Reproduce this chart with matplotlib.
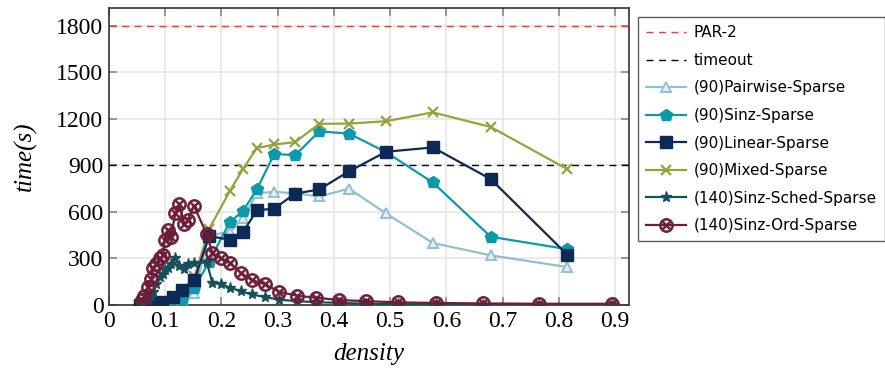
import matplotlib
matplotlib.use("Agg")
import matplotlib.pyplot as plt

# 90-instance series share one density grid
dens90 = [0.055, 0.06, 0.072, 0.084, 0.095, 0.113, 0.13, 0.152, 0.178, 0.215,
          0.238, 0.263, 0.294, 0.331, 0.374, 0.427, 0.493, 0.576, 0.679, 0.815]
pairwise = [1, 2, 3, 5, 8, 15, 30, 80, 450, 470,
            560, 720, 730, 720, 700, 750, 590, 400, 320, 245]
sinz = [1, 2, 3, 5, 8, 15, 32, 110, 280, 535,
        605, 745, 975, 965, 1120, 1105, 985, 790, 440, 360]
linear = [2, 4, 8, 12, 20, 50, 95, 160, 445, 420,
          468, 610, 622, 718, 745, 862, 988, 1016, 812, 325]
mixed = [0, 2, 5, 10, 20, 35, 90, 185, 490, 735,
         875, 1012, 1035, 1050, 1168, 1170, 1185, 1242, 1148, 876]

# 140-instance series
dens140 = [0.058, 0.063, 0.069, 0.075, 0.079, 0.084, 0.091, 0.096, 0.099, 0.105,
           0.11, 0.118, 0.125, 0.134, 0.14, 0.151, 0.174, 0.184, 0.199, 0.216,
           0.235, 0.254, 0.277, 0.303, 0.334, 0.368, 0.41, 0.457, 0.514, 0.582,
           0.665, 0.765, 0.894]
sched = [5, 10, 30, 60, 85, 135, 180, 200, 225, 240,
         262, 305, 250, 230, 262, 270, 275, 140, 135, 110,
         88, 68, 52, 34, 25, 18, 14, 8, 5, 4,
         3, 3, 3]
ordered = [30, 60, 117, 165, 240, 262, 300, 320, 420, 485,
           440, 590, 650, 522, 545, 640, 455, 335, 300, 270,
           205, 160, 135, 85, 60, 47, 32, 25, 17, 13,
           10, 8, 8]

par2 = 1800
timeout = 900

xticks = [0, 0.1, 0.2, 0.3, 0.4, 0.5, 0.6, 0.7, 0.8, 0.9]
yticks = [0, 300, 600, 900, 1200, 1500, 1800]

c_pair = "#93c0d1"
c_sinz = "#0c9aab"
c_lin = "#0d2a57"
c_mix = "#98a23c"
c_sched = "#15505c"
c_ord = "#6e1d38"

serif = ["Liberation Serif", "DejaVu Serif"]

fig = plt.figure(figsize=(8.85, 3.73), dpi=100)
ax = fig.add_axes([109 / 885, 1 - 305 / 373, (629 - 109) / 885, (305 - 8) / 373])

ax.axhline(par2, color="#e8413c", ls=(0, (5, 4)), lw=1.0, label="PAR-2", zorder=2)
ax.axhline(timeout, color="black", ls=(0, (5, 4)), lw=1.0, label="timeout", zorder=2)

ax.plot(dens90, pairwise, color=c_pair, lw=1.6, marker="^", ms=7,
        mfc="#e3eff4", mec=c_pair, mew=1.4, label="(90)Pairwise-Sparse", zorder=3)
ax.plot(dens90, sinz, color=c_sinz, lw=1.6, marker="p", ms=9,
        mfc=c_sinz, mec=c_sinz, label="(90)Sinz-Sparse", zorder=4)
ax.plot(dens90, linear, color=c_lin, lw=1.6, marker="s", ms=9,
        mfc=c_lin, mec=c_lin, label="(90)Linear-Sparse", zorder=5)
ax.plot(dens90, mixed, color=c_mix, lw=1.6, marker="x", ms=7, mew=1.6,
        label="(90)Mixed-Sparse", zorder=4)
ax.plot(dens140, sched, color=c_sched, lw=1.6, marker="*", ms=8,
        label="(140)Sinz-Sched-Sparse", zorder=6)
ax.plot(dens140, ordered, color=c_ord, lw=1.6, marker=r"$\otimes$", ms=10,
        mew=0.6, label="(140)Sinz-Ord-Sparse", zorder=6)

ax.set_xlim(0, 0.925)
ax.set_ylim(0, 1915)
ax.set_xticks(xticks)
ax.set_yticks(yticks)
ax.set_xticklabels([f"{t:g}" for t in xticks], family=serif, fontsize=17)
ax.set_yticklabels([str(t) for t in yticks], family=serif, fontsize=17)
ax.tick_params(direction="in", top=True, right=True, length=6, color="#888888",
               width=1.2, pad=4)
ax.grid(True, color="#e6e6e6", lw=1.2, zorder=0)
ax.set_axisbelow(True)
for s in ax.spines.values():
    s.set_linewidth(1.2)
    s.set_color("#333333")

ax.set_xlabel("density", family=serif, style="italic", fontsize=18, labelpad=8)
ax.set_ylabel("time(s)", family=serif, style="italic", fontsize=18, labelpad=14)

leg = fig.legend(loc="upper left", bbox_to_anchor=(638 / 885, 1 - 17 / 373),
                 prop={"family": "DejaVu Sans", "size": 11}, frameon=True,
                 fancybox=False, edgecolor="#333333", handlelength=2.6,
                 labelspacing=0.82, borderpad=0.55, handletextpad=0.5,
                 borderaxespad=0)
leg.get_frame().set_linewidth(1.0)

fig.savefig("out.png", dpi=100)
